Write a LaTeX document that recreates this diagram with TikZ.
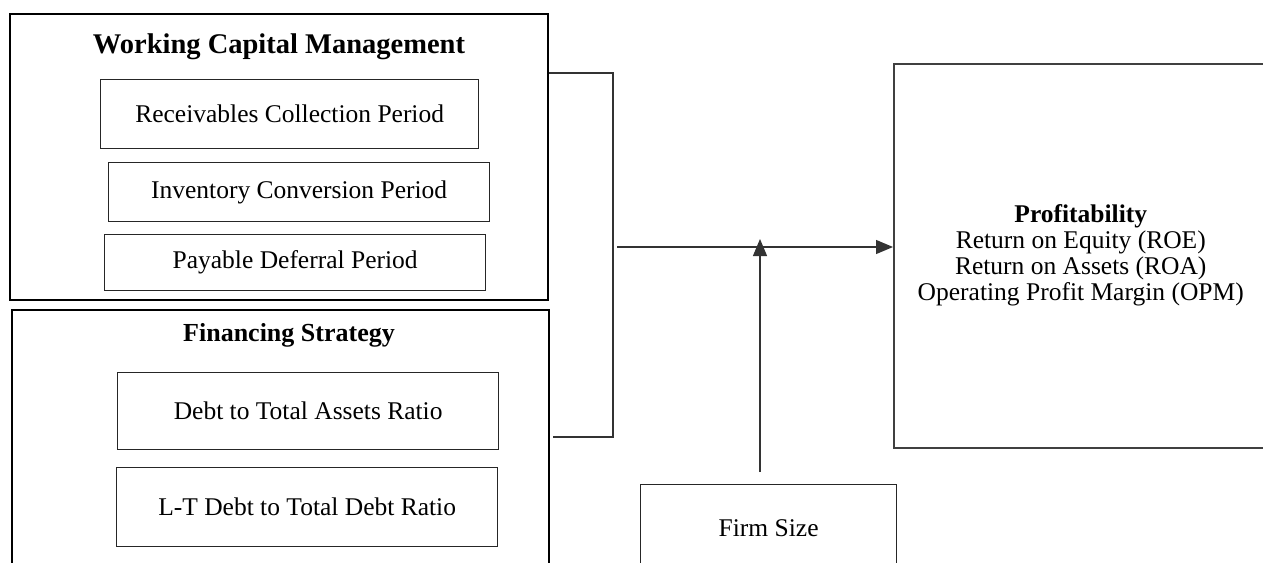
\documentclass[tikz,border=0pt]{standalone}
\usepackage{fontspec}
\setmainfont{Liberation Serif}
\usetikzlibrary{arrows.meta}
\tikzset{
  box_txt/.style = {align=center, inner sep=0pt, text centered,
    font=\fontsize{25.5}{26}\selectfont},
  box_big/.style = {box_txt, rectangle, draw=black, line width=2pt,
    anchor=north west},% grand cadre
  box_sub/.style = {box_txt, rectangle, draw=black!85, line width=1.3pt,
    anchor=north west},% petit cadre
  box_head/.style = {box_txt, font=\fontsize{26}{28}\selectfont\bfseries},% titre
  link/.style = {draw=black!80, line width=1.2pt}
}

\begin{document}
\begin{tikzpicture}[x=1pt, y=-1pt, >={Triangle[length=17pt,width=14pt]}]
  \useasboundingbox (0,0) rectangle (1263,562);
  \clip (0,0) rectangle (1263,562);
  % working capital
  \node [box_big, minimum width=538pt, minimum height=286pt] (wcm) at (9,13) {};
  \node [box_head, font=\fontsize{28.5}{30}\selectfont\bfseries] (wcm_t) at (279,47) {Working Capital Management};
  \node [box_sub, minimum width=378pt, minimum height=69pt] (rcp) at (100,79) {Receivables Collection Period};
  \node [box_sub, minimum width=381pt, minimum height=59pt] (icp) at (108,162) {Inventory Conversion Period};
  \node [box_sub, minimum width=381pt, minimum height=56pt] (pdp) at (104,234) {Payable Deferral Period};
  % financing
  \node [box_big, minimum width=537pt, minimum height=300pt] (fin) at (11,309) {};
  \node [box_head] (fin_t) at (289,335) {Financing Strategy};
  \node [box_sub, minimum width=381pt, minimum height=77pt] (dta) at (117,372) {Debt to Total Assets Ratio};
  \node [box_sub, minimum width=381pt, minimum height=79pt] (ltd) at (116,467) {L-T Debt to Total Debt Ratio};
  % moderator & outcome
  \node [box_sub, minimum width=256pt, minimum height=88pt] (firm) at (640,484) {Firm Size};
  \node [box_sub, draw=black!75, line width=1.5pt, minimum width=374pt, minimum height=384pt] (prof) at (893,63)
    {\textbf{Profitability}\\Return on Equity (ROE)\\Return on Assets (ROA)\\Operating Profit Margin (OPM)};
  % connectors
  \coordinate (brk_top) at (613,73);
  \coordinate (brk_bot) at (613,437);
  \coordinate (fin_out) at (553,437);
  \coordinate (brk_mid) at (617,247);
  \coordinate (size_in) at (760,472);
  \coordinate (size_tip) at (760,239);
  \draw [link] (wcm.east |- brk_top) -- (brk_top) -- (brk_bot) -- (fin_out);
  \draw [link, ->] (brk_mid) -- (prof.west |- brk_mid);
  \draw [link, ->] (size_in) -- (size_tip);
\end{tikzpicture}
\end{document}
